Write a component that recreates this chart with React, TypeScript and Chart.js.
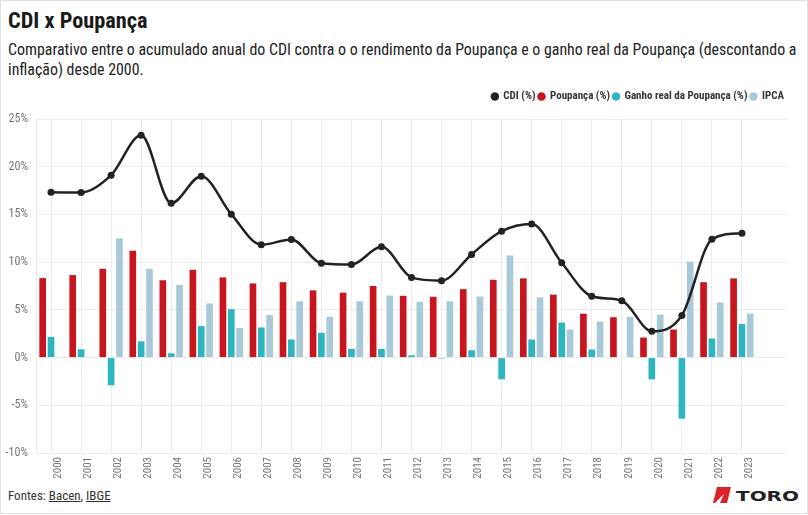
import { useEffect, useRef } from 'react';
import { Chart, registerables } from 'chart.js';

Chart.register(...registerables);

const FONT = '"Liberation Sans Narrow", "Roboto Condensed", Roboto, sans-serif';

const categories = ['2000', '2001', '2002', '2003', '2004', '2005', '2006', '2007', '2008', '2009', '2010', '2011', '2012', '2013', '2014', '2015', '2016', '2017', '2018', '2019', '2020', '2021', '2022', '2023', ''];
const cdi = [17.32, 17.29, 19.11, 23.29, 16.17, 19.0, 15.03, 11.82, 12.38, 9.88, 9.75, 11.6, 8.4, 8.06, 10.81, 13.24, 14.0, 9.93, 6.42, 5.96, 2.76, 4.42, 12.39, 13.04];
const poupanca = [8.33, 8.64, 9.3, 11.2, 8.1, 9.2, 8.4, 7.77, 7.9, 7.04, 6.8, 7.5, 6.47, 6.37, 7.17, 8.15, 8.3, 6.6, 4.6, 4.23, 2.1, 2.94, 7.9, 8.3];
const ganhoReal = [2.17, 0.87, -2.9, 1.7, 0.45, 3.3, 5.07, 3.15, 1.89, 2.6, 0.9, 0.9, 0.24, -0.1, 0.77, -2.28, 1.89, 3.67, 0.84, -0.05, -2.28, -6.4, 2.0, 3.53];
const ipca = [null, null, 12.5, 9.3, 7.6, 5.67, 3.1, 4.45, 5.9, 4.27, 5.9, 6.5, 5.84, 5.9, 6.4, 10.7, 6.3, 2.94, 3.78, 4.27, 4.5, 10.05, 5.78, 4.6];
const yTicks = [-10, -5, 0, 5, 10, 15, 20, 25];

const GRID = '#ececec';

export default function App() {
  const ref = useRef<HTMLCanvasElement>(null);
  useEffect(() => {
    const legendHeight = {
      id: 'legendHeight',
      beforeInit(chart: any) {
        if (!chart.legend) return;
        const orig = chart.legend.fit;
        chart.legend.fit = function () {
          orig.call(this);
          this.height = 31;
        };
      },
    };
    const chart = new Chart(ref.current as HTMLCanvasElement, {
      type: 'bar',
      data: {
        labels: categories,
        datasets: [
          {
            type: 'line',
            label: 'CDI (%)',
            data: cdi,
            borderColor: '#222222',
            backgroundColor: '#222222',
            borderWidth: 2.5,
            pointRadius: 3.5,
            pointBackgroundColor: '#222222',
            pointBorderWidth: 0,
            cubicInterpolationMode: 'monotone',
          } as any,
          {
            label: 'Poupança (%)',
            data: poupanca,
            backgroundColor: '#c8161e',
            categoryPercentage: 0.833,
            barPercentage: 0.8,
          },
          {
            label: 'Ganho real da Poupança (%)',
            data: ganhoReal,
            backgroundColor: '#2bb6c0',
            categoryPercentage: 0.833,
            barPercentage: 0.8,
          },
          {
            label: 'IPCA',
            data: ipca,
            backgroundColor: '#a8c9d9',
            categoryPercentage: 0.833,
            barPercentage: 0.8,
          },
        ],
      },
      options: {
        responsive: false,
        animation: false,
        layout: { padding: { left: 0, right: 21, top: 0, bottom: 0 } },
        font: { family: FONT },
        plugins: {
          tooltip: { enabled: false },
          legend: {
            position: 'top',
            align: 'end',
            labels: {
              usePointStyle: true,
              pointStyle: 'circle',
              boxWidth: 6,
              boxHeight: 6,
              padding: 3,
              color: '#333',
              font: { family: FONT, size: 11, weight: 'bold' },
            },
          },
        },
        scales: {
          x: {
            offset: true,
            grid: {
              offset: false,
              color: (c: any) => (c.index === categories.length - 1 ? 'rgba(0,0,0,0)' : GRID),
              drawTicks: false,
            },
            border: { display: false },
            ticks: {
              autoSkip: false,
              maxRotation: 90,
              minRotation: 90,
              padding: 4,
              labelOffset: 7,
              color: '#777',
              font: { family: FONT, size: 11 },
            },
            afterFit: (s: any) => {
              s.height = 27;
            },
          },
          y: {
            min: -10,
            max: 25,
            afterBuildTicks: (s: any) => {
              s.ticks = yTicks.map((v) => ({ value: v }));
            },
            grid: { color: GRID, drawTicks: false },
            border: { color: GRID },
            ticks: {
              padding: 8,
              color: '#777',
              font: { family: FONT, size: 12 },
              callback: (v: any) => `${v}%`,
            },
            afterFit: (s: any) => {
              s.width = 36;
            },
          },
        },
      },
      plugins: [legendHeight],
    });
    return () => chart.destroy();
  }, []);

  return (
    <div
      style={{
        position: 'absolute',
        left: 0,
        top: 0,
        width: 808,
        height: 515,
        background: '#fff',
        overflow: 'hidden',
        fontFamily: FONT,
      }}
    >
      <div
        style={{
          position: 'absolute',
          left: 0,
          top: 0,
          width: 808,
          height: 514,
          boxSizing: 'border-box',
          border: '1px solid #e2e2e2',
        }}
      />
      <div
        style={{
          position: 'absolute',
          left: 8,
          top: 9,
          fontSize: 22.3,
          lineHeight: '22px',
          fontWeight: 'bold',
          color: '#1a1a1a',
          whiteSpace: 'nowrap',
        }}
      >
        CDI x Poupança
      </div>
      <div
        style={{
          position: 'absolute',
          left: 8,
          top: 40,
          width: 795,
          fontSize: 15.9,
          lineHeight: '20px',
          color: '#222',
        }}
      >
        Comparativo entre o acumulado anual do CDI contra o o rendimento da Poupança e o ganho real da Poupança (descontando a inflação) desde 2000.
      </div>
      <canvas
        ref={ref}
        width={808}
        height={392}
        style={{ position: 'absolute', left: 0, top: 88, width: 808, height: 392 }}
      />
      <div
        style={{
          position: 'absolute',
          left: 8,
          top: 488,
          fontSize: 13,
          lineHeight: '16px',
          color: '#333',
          whiteSpace: 'nowrap',
        }}
      >
        Fontes: <span style={{ textDecoration: 'underline' }}>Bacen</span>, <span style={{ textDecoration: 'underline' }}>IBGE</span>
      </div>
      <svg
        width={90}
        height={20}
        viewBox="0 0 90 20"
        style={{ position: 'absolute', left: 712, top: 486 }}
      >
        <polygon points="5,1 19,1 15,17 1,17" fill="#d8232a" />
        <polygon points="3,17 12,8 8,17" fill="#ffffff" />
        <text
          x={24}
          y={14.5}
          textLength={63}
          lengthAdjust="spacingAndGlyphs"
          style={{ fontFamily: '"DejaVu Sans", sans-serif', fontWeight: 'bold', fontSize: 14 }}
          fill="#222"
        >
          TORO
        </text>
      </svg>
    </div>
  );
}
